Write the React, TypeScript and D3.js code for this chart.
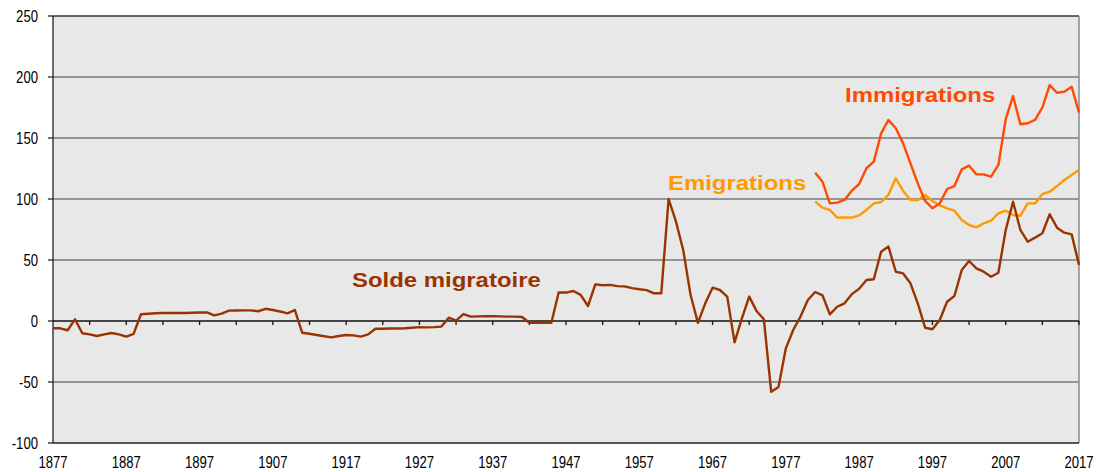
import * as d3 from "d3";

// solde migratoire, 1877-2017 (milliers)
const soldeYears = d3.range(1877, 2018);
const soldeValues = [
  -6, -6, -7.6, 1.4, -10, -11, -12.3, -11, -9.8, -11, -12.8, -10.5, 5.5,
  6, 6.3, 6.5, 6.6, 6.5, 6.6, 6.8, 7, 7, 4.6, 6, 8.5, 8.6, 8.7, 8.7, 8,
  10, 9, 7.8, 6.3, 9, -9.6, -10.5, -11.5, -12.5, -13.4, -12.3, -11.5,
  -11.8, -12.8, -11, -6.3, -6.3, -6.2, -6.1, -6, -5.5, -5, -5.2, -5, -4.6,
  2.7, 0.3, 5.7, 3.6, 3.8, 3.9, 4, 3.8, 3.6, 3.6, 3.3, -1.4, -1.5, -1.5,
  -1.5, 23.3, 23.3, 24.6, 21.4, 12.3, 30, 29.3, 29.6, 28.6, 28.4, 27, 26,
  25.3, 22.7, 22.7, 100, 81.6, 58, 21.3, -1.5, 14.5, 27.3, 25.4, 20, -17.5,
  2.2, 20, 8.2, 1.4, -58, -54, -22.4, -7.4, 3.6, 17.2, 23.8, 21, 5.5, 11.7,
  14.5, 22, 26.5, 33.6, 34.2, 56.8, 61, 40.4, 39, 30.9, 14.5, -5.5, -6.8,
  0.8, 15.8, 20.5, 41.8, 49.2, 43.2, 40.4, 36.3, 39.6, 74.6, 97.8, 74.6,
  65, 68.3, 71.9, 87.5, 76.5, 72.4, 71, 46,
];

// immigrations et emigrations, 1981-2017
const flowYears = d3.range(1981, 2018);
const immigrationValues = [
  121.6, 114.2, 96.4, 97, 99.2, 106.8, 112.3, 125.2, 130.6, 153.8, 164.8,
  158, 145.6, 129.2, 112.8, 98.4, 92.4, 96.4, 108.2, 110.6, 124.3, 127.3,
  120.2, 120.2, 118.3, 127.9, 165.4, 184.4, 161.3, 162.1, 164.8, 174.9,
  193.4, 187.1, 188, 192, 170.8,
];
const emigrationValues = [
  97.8, 92.9, 91, 84.7, 84.9, 84.7, 86.6, 91, 96.4, 97.5, 103.5, 117, 106.6,
  99.2, 99.2, 103.3, 98.4, 94.8, 92.4, 90.4, 82.8, 78.7, 76.8, 80, 82.2,
  88.3, 90.4, 86.9, 86.3, 96.4, 96.4, 104, 106, 110.6, 115.6, 119.7, 123.8,
];

const yTicks = [250, 200, 150, 100, 50, 0, -50, -100];
const xLabelYears = d3.range(1877, 2018, 10);
const xTickYears = d3.range(1882, 2018, 5);

const W = 1104;
const H = 472;
const left = 53;
const right = 1079;
const top = 16;
const bottom = 443;

export default function App() {
  const x = d3.scaleLinear().domain([1877, 2017]).range([left, right]);
  const y = d3.scaleLinear().domain([-100, 250]).range([bottom, top]);

  const line = d3
    .line<[number, number]>()
    .x((d) => x(d[0]))
    .y((d) => y(d[1]));

  const solde = line(soldeYears.map((yr, i) => [yr, soldeValues[i]]));
  const immig = line(flowYears.map((yr, i) => [yr, immigrationValues[i]]));
  const emig = line(flowYears.map((yr, i) => [yr, emigrationValues[i]]));

  const font = "'Liberation Sans', Arial, sans-serif";

  // axis text is narrow in the original, series labels are wide
  const tickText = (tx: number, ty: number) => `translate(${tx},${ty}) scale(0.82,1)`;
  const labelText = (tx: number, ty: number) => `translate(${tx},${ty}) scale(1.14,1)`;

  return (
    <svg
      width={W}
      height={H}
      style={{ position: "absolute", left: 0, top: 0, background: "#fff" }}
      fontFamily={font}
    >
      <rect x={left} y={top} width={right - left} height={bottom - top} fill="#e8e8e8" />

      {/* gridlines */}
      {yTicks
        .filter((t) => t !== 0 && t !== -100 && t !== 250)
        .map((t) => (
          <line key={t} x1={left} x2={right} y1={y(t)} y2={y(t)} stroke="#7a7a7a" strokeWidth={1.3} />
        ))}
      <line x1={left} x2={right} y1={y(250)} y2={y(250)} stroke="#333" strokeWidth={1.3} />
      <line x1={right} x2={right} y1={top} y2={bottom} stroke="#888" strokeWidth={1.5} />
      <line x1={left} x2={right} y1={bottom} y2={bottom} stroke="#222" strokeWidth={1.3} />
      <line x1={left} x2={left} y1={top} y2={bottom} stroke="#222" strokeWidth={1.3} />

      {/* zero axis with ticks */}
      <line x1={left} x2={right} y1={y(0)} y2={y(0)} stroke="#111" strokeWidth={1.6} />
      {xTickYears.map((yr) => (
        <line key={yr} x1={x(yr)} x2={x(yr)} y1={y(0)} y2={y(0) + 4} stroke="#111" strokeWidth={1.3} />
      ))}

      {/* y axis ticks & labels */}
      {yTicks.map((t) => (
        <g key={t}>
          <line x1={left - 5} x2={left} y1={y(t)} y2={y(t)} stroke="#222" strokeWidth={1.3} />
          <text transform={tickText(38, y(t) + 6)} textAnchor="end" fontSize={16} fill="#000">
            {t}
          </text>
        </g>
      ))}

      {/* x labels */}
      {xLabelYears.map((yr) => (
        <text key={yr} transform={tickText(x(yr), 468)} textAnchor="middle" fontSize={16} fill="#000">
          {yr}
        </text>
      ))}

      {/* series */}
      <path d={emig ?? ""} fill="none" stroke="#ff9900" strokeWidth={2.4} strokeLinejoin="round" />
      <path d={immig ?? ""} fill="none" stroke="#ff4a00" strokeWidth={2.4} strokeLinejoin="round" />
      <path d={solde ?? ""} fill="none" stroke="#993300" strokeWidth={2.4} strokeLinejoin="round" />

      {/* labels */}
      <text transform={labelText(845, 102)} fontSize={21} fontWeight="bold" fill="#ff4a00">
        Immigrations
      </text>
      <text transform={labelText(668, 190)} fontSize={21} fontWeight="bold" fill="#ff9900">
        Emigrations
      </text>
      <text transform={labelText(352, 287)} fontSize={21} fontWeight="bold" fill="#993300">
        Solde migratoire
      </text>
    </svg>
  );
}
